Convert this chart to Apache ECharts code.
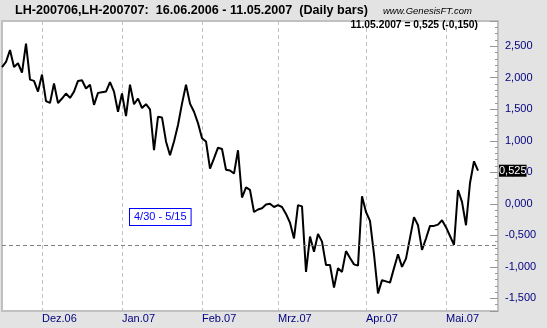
<!DOCTYPE html>
<html><head><meta charset="utf-8">
<script src="https://cdn.jsdelivr.net/npm/echarts@6/dist/echarts.min.js"></script>
<style>html,body{margin:0;padding:0;background:#e3e3e3}#c{width:547px;height:328px}</style>
</head><body><div id="c"></div>
<script>
const dates = [
'16.11.2006','17.11.2006','20.11.2006','21.11.2006','22.11.2006','24.11.2006','27.11.2006','28.11.2006','29.11.2006','30.11.2006',
'01.12.2006','04.12.2006','05.12.2006','06.12.2006','07.12.2006','08.12.2006','11.12.2006','12.12.2006','13.12.2006','14.12.2006',
'15.12.2006','18.12.2006','19.12.2006','20.12.2006','21.12.2006','22.12.2006','26.12.2006','27.12.2006','28.12.2006','29.12.2006',
'03.01.2007','04.01.2007','05.01.2007','08.01.2007','09.01.2007','10.01.2007','11.01.2007','12.01.2007','16.01.2007','17.01.2007',
'18.01.2007','19.01.2007','22.01.2007','23.01.2007','24.01.2007','25.01.2007','26.01.2007','29.01.2007','30.01.2007','31.01.2007',
'01.02.2007','02.02.2007','05.02.2007','06.02.2007','07.02.2007','08.02.2007','09.02.2007','12.02.2007','13.02.2007','14.02.2007',
'15.02.2007','16.02.2007','20.02.2007','21.02.2007','22.02.2007','23.02.2007','26.02.2007','27.02.2007','28.02.2007',
'01.03.2007','02.03.2007','05.03.2007','06.03.2007','07.03.2007','08.03.2007','09.03.2007','12.03.2007','13.03.2007','14.03.2007',
'15.03.2007','16.03.2007','19.03.2007','20.03.2007','21.03.2007','22.03.2007','23.03.2007','26.03.2007','27.03.2007','28.03.2007',
'29.03.2007','30.03.2007',
'02.04.2007','03.04.2007','04.04.2007','05.04.2007','09.04.2007','10.04.2007','11.04.2007','12.04.2007','13.04.2007','16.04.2007',
'17.04.2007','18.04.2007','19.04.2007','20.04.2007','23.04.2007','24.04.2007','25.04.2007','26.04.2007','27.04.2007','30.04.2007',
'01.05.2007','02.05.2007','03.05.2007','04.05.2007','07.05.2007','08.05.2007','09.05.2007','10.05.2007','11.05.2007'
];
const futureDates = ['14.05.2007','15.05.2007','16.05.2007','17.05.2007','18.05.2007'];
const spread = [
2.17,2.25,2.44,2.17,2.23,2.08,2.54,1.97,1.95,1.78,
2.05,1.63,1.60,1.91,1.60,1.67,1.75,1.68,1.78,1.95,
1.96,1.83,1.89,1.57,1.76,1.77,1.78,1.93,1.78,1.46,
1.75,1.39,1.89,1.58,1.67,1.52,1.58,1.50,0.85,1.38,
1.37,0.99,0.77,0.99,1.25,1.59,1.89,1.59,1.46,1.28,
1.04,0.99,0.56,0.72,0.89,0.87,0.54,0.53,0.48,0.85,
0.10,0.26,0.22,-0.13,-0.09,-0.07,-0.01,0.00,-0.05,-0.02,
-0.05,-0.16,-0.30,-0.55,-0.02,-0.04,-1.08,-0.52,-0.76,-0.48,
-0.60,-0.97,-0.97,-1.33,-1.02,-1.08,-0.75,-0.86,-0.96,-0.98,
0.12,-0.13,-0.27,-0.80,-1.42,-1.21,-1.23,-1.25,-1.02,-0.80,
-1.00,-0.87,-0.54,-0.21,-0.34,-0.73,-0.55,-0.35,-0.35,-0.33,
-0.26,-0.37,-0.51,-0.65,0.22,0.03,-0.34,0.33,0.675,0.525
];
const monthStarts = ['01.12.2006','03.01.2007','01.02.2007','01.03.2007','02.04.2007','01.05.2007'];
const monthLabels = ['Dez.06','Jan.07','Feb.07','Mrz.07','Apr.07','Mai.07'];
const refLevel = [-0.66];
const seasonLabel = ['4/30 - 5/15'];
const titleText = 'LH-200706,LH-200707:  16.06.2006 - 11.05.2007  (Daily bars)';
const sourceText = 'www.GenesisFT.com';

const F = 'Liberation Sans, Arial, sans-serif';
const fmt = v => v.toFixed(3).replace('.', ',');
const n = spread.length;
const last = spread[n - 1], prev = spread[n - 2];
const isMonth = (i, v) => monthStarts.indexOf(v) >= 0;

const chart = echarts.init(document.getElementById('c'), null, {renderer: 'canvas'});
chart.setOption({
  backgroundColor: '#e3e3e3',
  animation: false,
  title: {text: titleText, left: 15, top: 4, padding: 0,
    textStyle: {fontFamily: F, fontSize: 12.6, fontWeight: 'bold', color: '#000'}},
  grid: {left: 2, right: 49, top: 21, bottom: 17, show: true, backgroundColor: '#fff',
    borderColor: '#c0c0c0', borderWidth: 2},
  xAxis: {type: 'category', data: dates.concat(futureDates), boundaryGap: false,
    axisLine: {show: false}, axisTick: {show: false},
    axisLabel: {interval: isMonth, formatter: v => monthLabels[monthStarts.indexOf(v)],
      color: '#000080', fontFamily: F, fontSize: 11, align: 'left', margin: 2},
    splitLine: {show: true, interval: isMonth, lineStyle: {color: '#c0c0c0', type: [4, 3], width: 1}}},
  yAxis: [
    {type: 'value', position: 'right', min: -1.7, max: 2.9, splitNumber: 9, minInterval: 0.5, maxInterval: 0.5,
     axisLine: {show: false}, axisTick: {show: true, inside: true, length: 8, lineStyle: {color: '#999'}},
     axisLabel: {color: '#000080', fontFamily: F, fontSize: 11, margin: 7,
       formatter: v => Math.abs(v * 2 - Math.round(v * 2)) < 1e-6 ? fmt(v) : ''},
     splitLine: {show: false}},
    {type: 'value', position: 'right', min: -1.7, max: 2.9, interval: 0.1,
     axisLine: {show: false}, axisTick: {show: true, inside: true, length: 3, lineStyle: {color: '#999'}},
     axisLabel: {show: false}, splitLine: {show: false}}
  ],
  series: [{
    type: 'line', data: spread, symbol: 'none', showSymbol: false,
    lineStyle: {color: '#000', width: 2}, itemStyle: {color: '#000'},
    endLabel: {show: true, formatter: p => fmt(p.value), color: '#fff', backgroundColor: '#000',
      fontFamily: F, fontSize: 11, padding: [1, 0, 0, 0], distance: 21},
    markLine: {silent: true, symbol: 'none', label: {show: false},
      lineStyle: {color: '#808080', type: [4, 3], width: 1},
      data: refLevel.map(v => ({yAxis: v}))}
  }],
  graphic: [
    {type: 'text', left: 383, top: 6, style: {text: sourceText, font: 'italic 9.5px ' + F, fill: '#000'}},
    {type: 'text', right: 69, top: 20, style: {text: dates[n - 1] + ' = ' + fmt(last) + ' (' + fmt(last - prev) + ')',
      font: 'bold 10.3px ' + F, fill: '#000'}},
    {type: 'text', left: 129, top: 208, z: 10, style: {text: seasonLabel[0], font: '11px ' + F, fill: '#0000ff',
      borderColor: '#0000ff', borderWidth: 1, backgroundColor: '#fff', padding: [2, 4], lineHeight: 12}}
  ]
});
</script></body></html>
